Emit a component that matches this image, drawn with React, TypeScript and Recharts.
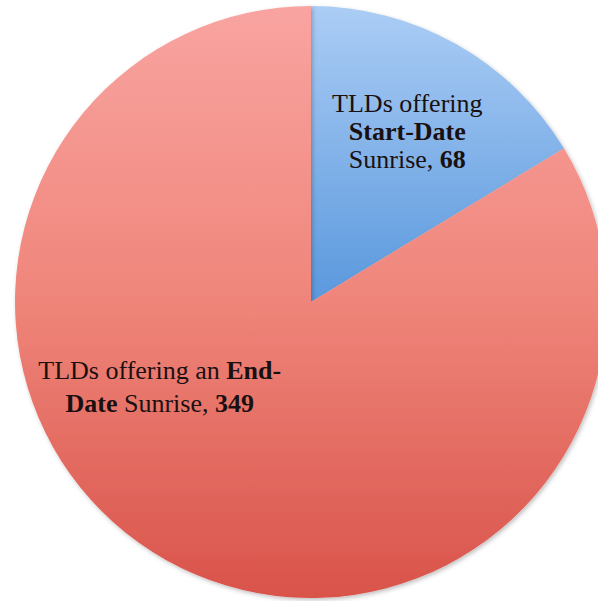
import { PieChart, Pie, Cell } from "recharts";

const categories = ["Start-Date", "End-Date"];
const values = [68, 349];
const labelLines = [
  [["TLDs offering", false]],
  [["TLDs offering an ", false], ["End-", true]],
];

const data = categories.map((name, i) => ({ name, value: values[i] }));

const RADIAN = Math.PI / 180;
const FONT = "'Liberation Serif', 'Times New Roman', serif";

// Excel-style label placement: blue label on the bisector, red one nudged up-left
const labelPlace = [
  { f: 0.664, shift: 0, gap: 28 },
  { f: 0.585, shift: -31.5, gap: 33 },
];

function renderLabel(props: any) {
  const { cx, cy, midAngle, outerRadius, index, value } = props;
  const p = labelPlace[index];
  const a = (midAngle + p.shift) * RADIAN;
  const x = cx + outerRadius * p.f * Math.cos(a);
  const y = cy - outerRadius * p.f * Math.sin(a);
  const common = { x, textAnchor: "middle" as const, fontFamily: FONT, fontSize: 26, fill: "#1a1010" };

  if (index === 0) {
    return (
      <g>
        <text {...common} y={y - p.gap + 9}>TLDs offering</text>
        <text {...common} y={y + 9} fontWeight="bold">Start-Date</text>
        <text {...common} y={y + p.gap + 9}>
          <tspan>Sunrise, </tspan>
          <tspan fontWeight="bold">{value}</tspan>
        </text>
      </g>
    );
  }
  return (
    <g>
      <text {...common} y={y - p.gap / 2 + 9}>
        {labelLines[1].map(([t, b], i) => (
          <tspan key={i} fontWeight={b ? "bold" : "normal"}>{t as string}</tspan>
        ))}
      </text>
      <text {...common} y={y + p.gap / 2 + 9}>
        <tspan fontWeight="bold">Date</tspan>
        <tspan> Sunrise, </tspan>
        <tspan fontWeight="bold">{value}</tspan>
      </text>
    </g>
  );
}

export default function App() {
  return (
    <div style={{ position: "absolute", left: 0, top: 0, width: 598, height: 601, background: "#fff" }}>
      <PieChart width={598} height={601} margin={{ top: 0, right: 0, bottom: 0, left: 0 }}>
        <defs>
          <linearGradient id="blueGrad" x1="0" y1="0" x2="0" y2="1">
            <stop offset="0%" stopColor="#abcdf5" />
            <stop offset="100%" stopColor="#5a98dd" />
          </linearGradient>
          <linearGradient id="redGrad" x1="0" y1="0" x2="0" y2="1">
            <stop offset="0%" stopColor="#f9a4a1" />
            <stop offset="50%" stopColor="#ef857a" />
            <stop offset="100%" stopColor="#d9534a" />
          </linearGradient>
          <filter id="pieShadow" x="-5%" y="-5%" width="110%" height="110%">
            <feDropShadow dx="1.5" dy="2" stdDeviation="2" floodColor="#000" floodOpacity="0.25" />
          </filter>
        </defs>
        <Pie
          data={data}
          dataKey="value"
          nameKey="name"
          cx={311}
          cy={302}
          outerRadius={296}
          startAngle={90}
          endAngle={-270}
          stroke="none"
          label={renderLabel}
          labelLine={false}
          isAnimationActive={false}
          style={{ filter: "url(#pieShadow)" }}
        >
          <Cell fill="url(#blueGrad)" />
          <Cell fill="url(#redGrad)" />
        </Pie>
      </PieChart>
    </div>
  );
}
